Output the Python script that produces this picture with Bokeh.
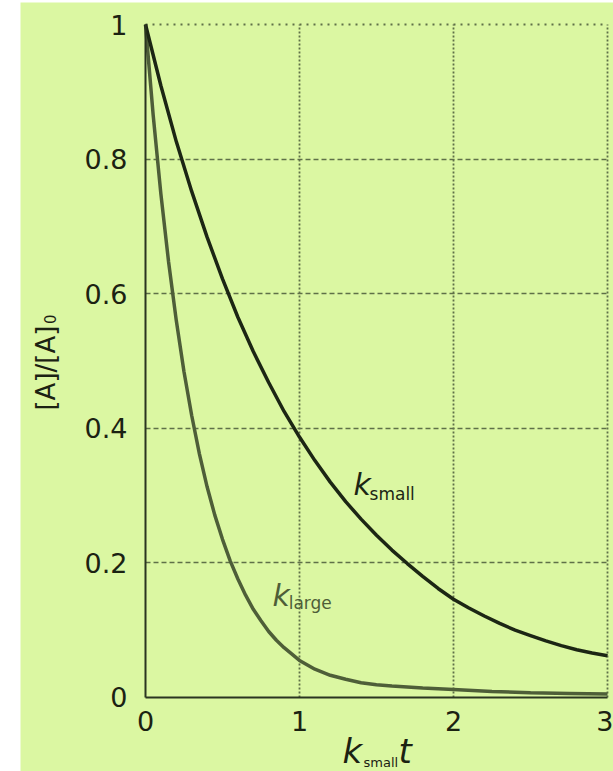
import math
from bokeh.plotting import figure
from bokeh.models import Label, Grid, FixedTicker, Range1d
from bokeh.embed import file_html
from bokeh.resources import INLINE

# ---- data ----
t_small = [0, 0.1, 0.2, 0.3, 0.4, 0.5, 0.6, 0.7, 0.8, 0.9, 1.0, 1.1, 1.2, 1.3, 1.4, 1.5,
           1.6, 1.7, 1.8, 1.9, 2.0, 2.1, 2.2, 2.3, 2.4, 2.5, 2.6, 2.7, 2.8, 2.9, 3.0]
y_small = [1.0, 0.909, 0.826, 0.752, 0.684, 0.622, 0.565, 0.514, 0.468, 0.425, 0.387, 0.352,
           0.32, 0.291, 0.265, 0.241, 0.219, 0.199, 0.18, 0.162, 0.146, 0.133, 0.121, 0.11,
           0.1, 0.092, 0.084, 0.077, 0.071, 0.066, 0.062]

t_large = [0, 0.05, 0.1, 0.15, 0.2, 0.25, 0.3, 0.35, 0.4, 0.45, 0.5, 0.55, 0.6, 0.65, 0.7,
           0.75, 0.8, 0.85, 0.9, 1.0, 1.1, 1.2, 1.3, 1.4, 1.5, 1.6, 1.8, 2.0, 2.25, 2.5, 2.75, 3.0]
y_large = [1.0, 0.865, 0.748, 0.647, 0.56, 0.484, 0.419, 0.362, 0.313, 0.271, 0.235, 0.203,
           0.176, 0.152, 0.131, 0.114, 0.098, 0.085, 0.074, 0.055, 0.042, 0.033, 0.027, 0.022,
           0.019, 0.017, 0.014, 0.012, 0.009, 0.007, 0.006, 0.005]

x_ticks = [0, 1, 2, 3]
x_tick_labels = ["0", "1", "2", "3"]
y_ticks = [0, 0.2, 0.4, 0.6, 0.8, 1]
y_tick_labels = ["0", "0.2", "0.4", "0.6", "0.8", "1"]
x_limits = (0, 3)
y_limits = (0, 1)

BG = "#dbf7a2"
DARK = "#1c2614"
MID = "#4e5e38"
GRID = "#5f7048"
TXT = "#1b2212"
FONT = "DejaVu Sans"

# The frame covers the whole canvas; axes sit at fixed data locations.
p = figure(width=593, height=769, output_backend="svg", toolbar_location=None,
           x_range=Range1d(-0.8117, 3.039), y_range=Range1d(-0.110, 1.0327),
           background_fill_color=BG, border_fill_color=BG,
           margin=(2, 0, 0, 20))
p.min_border = 0
p.outline_line_color = None
p.xgrid.visible = False
p.ygrid.visible = False

p.add_layout(Grid(dimension=1, ticker=FixedTicker(ticks=[0.2, 0.4, 0.6, 0.8]),
                  cross_bounds=x_limits,
                  grid_line_color=GRID, grid_line_width=1.6, grid_line_dash="5 3"))
p.add_layout(Grid(dimension=1, ticker=FixedTicker(ticks=[1]), cross_bounds=x_limits,
                  grid_line_color=GRID, grid_line_width=2.2, grid_line_dash="2 5"))
p.add_layout(Grid(dimension=0, ticker=FixedTicker(ticks=[1, 2, 3]), cross_bounds=y_limits,
                  grid_line_color=GRID, grid_line_width=1.8, grid_line_dash="2 2"))

for ax in (p.xaxis[0], p.yaxis[0]):
    ax.fixed_location = 0
    ax.axis_line_color = "#2a3520"
    ax.axis_line_width = 2
    ax.major_tick_line_color = None
    ax.minor_tick_line_color = None
    ax.major_tick_out = 0
    ax.major_tick_in = 0
    ax.major_label_text_font = FONT
    ax.major_label_text_font_size = "27px"
    ax.major_label_text_color = TXT

p.xaxis.bounds = x_limits
p.xaxis.ticker = FixedTicker(ticks=x_ticks)
p.xaxis.major_label_overrides = {t: l for t, l in zip(x_ticks, x_tick_labels)}
p.xaxis.major_label_standoff = 14
p.yaxis.bounds = y_limits
p.yaxis.ticker = FixedTicker(ticks=y_ticks)
p.yaxis.major_label_overrides = {t: l for t, l in zip(y_ticks, y_tick_labels)}
p.yaxis.major_label_standoff = 18

p.line(t_large, y_large, line_color=MID, line_width=3.5)
p.line(t_small, y_small, line_color=DARK, line_width=3.5)

# curve labels
p.add_layout(Label(x=1.351, y=0.316, text="k", text_font=FONT, text_font_style="italic",
                   text_font_size="30px", text_color=DARK, text_baseline="alphabetic"))
p.add_layout(Label(x=1.455, y=0.302, text="small", text_font=FONT,
                   text_font_size="17px", text_color=DARK, text_baseline="alphabetic"))
p.add_layout(Label(x=0.825, y=0.151, text="k", text_font=FONT, text_font_style="italic",
                   text_font_size="30px", text_color=MID, text_baseline="alphabetic"))
p.add_layout(Label(x=0.93, y=0.140, text="large", text_font=FONT,
                   text_font_size="17px", text_color=MID, text_baseline="alphabetic"))

# y-axis title
p.add_layout(Label(x=-0.643, y=0.4264, text="[A]/[A]", angle=math.pi / 2, text_font=FONT,
                   text_font_size="26px", text_color=TXT, text_baseline="alphabetic",
                   text_align="left"))
p.add_layout(Label(x=-0.623, y=0.555, text="0", angle=math.pi / 2, text_font=FONT,
                   text_font_size="15px", text_color=TXT, text_baseline="alphabetic",
                   text_align="left"))

# x-axis title
p.add_layout(Label(x=1.279, y=-0.080, text="k", text_font=FONT, text_font_style="italic",
                   text_font_size="34px", text_color=TXT, text_baseline="alphabetic"))
p.add_layout(Label(x=1.416, y=-0.097, text="small", text_font=FONT,
                   text_font_size="13px", text_color=TXT, text_baseline="alphabetic"))
p.add_layout(Label(x=1.643, y=-0.080, text="t", text_font=FONT, text_font_style="italic",
                   text_font_size="34px", text_color=TXT, text_baseline="alphabetic"))

open("out.html", "w").write(file_html(p, INLINE))
